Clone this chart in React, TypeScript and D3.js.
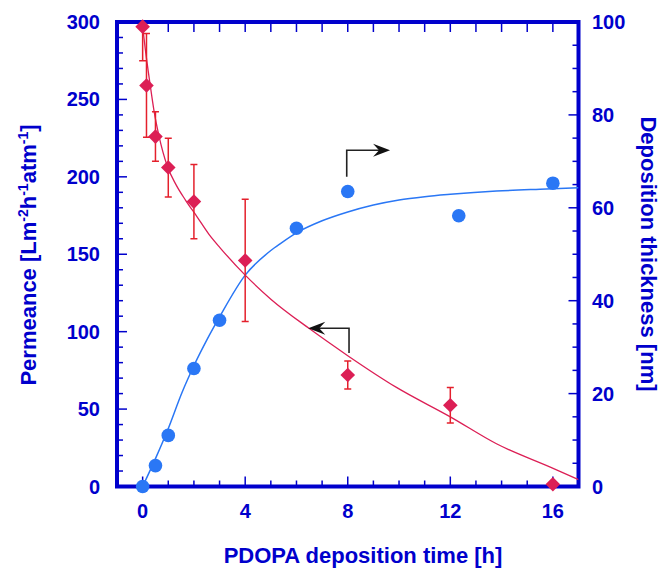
import React from "react";
import * as d3 from "d3";

// ---- Data ----
const permTime = [0, 0.15, 0.5, 1, 2, 4, 8, 12, 16];
const permValue = [297, 259, 226, 206, 184, 146, 72, 52.5, 1.5];
const permErr = [22, 33.5, 16, 19, 24, 39.5, 9, 11.5, 0];

const thickTime = [0, 0.5, 1, 2, 3, 6, 8, 12.33, 16];
const thickValue = [0, 4.5, 11, 25.4, 35.8, 55.6, 63.5, 58.3, 65.3];

// fitted curves
const permFitTime = [0, 0.1, 0.28, 0.45, 0.63, 0.96, 1.3, 1.67, 2.13, 2.58, 3.03, 4, 5, 6.5, 8, 9.9, 12, 13.8, 15.9, 17];
const permFitValue = [297, 283, 261, 242, 227, 207, 195, 185, 174, 163, 154, 136.5, 121, 102, 84.5, 64, 45, 27.6, 12.5, 4.5];

const thickFitTime = [0, 0.5, 1, 1.54, 2, 2.5, 3, 4, 5, 5.4, 6, 7, 8, 9, 10, 11, 12, 13.8, 15.5, 17];
const thickFitValue = [0, 6, 12.5, 20.3, 26, 31.5, 36.5, 45.5, 50.8, 52.4, 54.6, 57.2, 59.1, 60.6, 61.7, 62.4, 62.9, 63.6, 64, 64.3];

const xTicks = [0, 4, 8, 12, 16];
const yLeftTicks = [0, 50, 100, 150, 200, 250, 300];
const yRightTicks = [0, 20, 40, 60, 80, 100];

// annotation arrows (data coords)
const leftArrow = { tipX: 6.46, y: 102.2, cornerX: 8.05, endY: 86.2 }; // left axis
const rightArrow = { x: 7.96, startY: 66.7, cornerY: 72.4, tipX: 9.65 }; // right axis

const AXIS = "#0000CC";
const RED = "#DC1F55";
const ERR = "#E4202C";
const BLUE = "#2A77F5";
const FONT = "'Liberation Sans', Arial, Helvetica, sans-serif";

export default function App() {
  const W = 661, H = 568;
  const L = 117, R = 578.5, T = 22, B = 486.5;
  const x = d3.scaleLinear().domain([-1, 17]).range([L, R]);
  const yL = d3.scaleLinear().domain([0, 300]).range([B, T]);
  const yR = d3.scaleLinear().domain([0, 100]).range([B, T]);

  const redLine = d3.line<number>()
    .x((_, i) => x(permFitTime[i]))
    .y((d) => yL(d))
    .curve(d3.curveMonotoneX)(permFitValue) as string;
  const blueLine = d3.line<number>()
    .x((_, i) => x(thickFitTime[i]))
    .y((d) => yR(d))
    .curve(d3.curveMonotoneX)(thickFitValue) as string;

  const xMinor = d3.range(-1, 18, 1);
  const yLMinor = d3.range(0, 301, 10);
  const yRMinor = d3.range(0, 101, 5);

  const arrowHead = (tx: number, ty: number, dir: number) => {
    const len = 17, hw = 6.5, notch = 11;
    const p = [
      [tx, ty],
      [tx - dir * len, ty - hw],
      [tx - dir * notch, ty],
      [tx - dir * len, ty + hw],
    ];
    return "M" + p.map((q) => q.join(",")).join("L") + "Z";
  };

  return (
    <div style={{ position: "absolute", left: 0, top: 0 }}>
      <svg width={W} height={H} style={{ display: "block", background: "#fff" }} fontFamily={FONT}>
        <defs>
          <clipPath id="plotclip">
            <rect x={L} y={T} width={R - L} height={B - T} />
          </clipPath>
        </defs>

        {/* ticks */}
        {xMinor.map((t) => {
          const major = xTicks.includes(t);
          return (
            <g key={"xt" + t} stroke={AXIS} strokeWidth={1.5}>
              <line x1={x(t)} x2={x(t)} y1={B} y2={B - (major ? 10 : 6)} />
              <line x1={x(t)} x2={x(t)} y1={T} y2={T + 10} />
            </g>
          );
        })}
        {yLMinor.map((t) => (
          <line key={"yl" + t} stroke={AXIS} strokeWidth={1.5} x1={L} x2={L + (t % 50 === 0 ? 10 : 6)} y1={yL(t)} y2={yL(t)} />
        ))}
        {yRMinor.map((t) => (
          <line key={"yr" + t} stroke={AXIS} strokeWidth={1.5} x1={R} x2={R - (t % 20 === 0 ? 10 : 6)} y1={yR(t)} y2={yR(t)} />
        ))}

        {/* frame */}
        <rect x={L} y={T} width={R - L} height={B - T} fill="none" stroke={AXIS} strokeWidth={4} />

        {/* tick labels */}
        {xTicks.map((t) => (
          <text key={"xl" + t} x={x(t)} y={518} textAnchor="middle" fontSize={20} fontWeight="bold" fill={AXIS}>{t}</text>
        ))}
        {yLeftTicks.map((t) => (
          <text key={"yll" + t} x={100} y={yL(t)} dy="0.35em" textAnchor="end" fontSize={20} fontWeight="bold" fill={AXIS}>{t}</text>
        ))}
        {yRightTicks.map((t) => (
          <text key={"yrl" + t} x={592} y={yR(t)} dy="0.35em" textAnchor="start" fontSize={20} fontWeight="bold" fill={AXIS}>{t}</text>
        ))}

        {/* axis titles */}
        <text x={363} y={563} textAnchor="middle" fontSize={22} fontWeight="bold" fill={AXIS}>PDOPA deposition time [h]</text>
        <text transform="translate(36,255) rotate(-90)" textAnchor="middle" fontSize={22} fontWeight="bold" fill={AXIS}>
          Permeance [Lm<tspan dy={-8} fontSize={14}>-2</tspan><tspan dy={8}>h</tspan><tspan dy={-8} fontSize={14}>-1</tspan><tspan dy={8}>atm</tspan><tspan dy={-8} fontSize={14}>-1</tspan><tspan dy={8}>]</tspan>
        </text>
        <text transform="translate(641,254) rotate(90)" textAnchor="middle" fontSize={22} fontWeight="bold" fill={AXIS}>Deposition thickness [nm]</text>

        {/* fitted curves */}
        <g clipPath="url(#plotclip)">
          <path d={redLine} fill="none" stroke={RED} strokeWidth={1.3} />
          <path d={blueLine} fill="none" stroke={BLUE} strokeWidth={1.5} />
        </g>

        {/* error bars */}
        <g clipPath="url(#plotclip)" stroke={ERR} strokeWidth={1.5}>
          {permTime.map((t, i) => {
            if (!permErr[i]) return null;
            const cx = x(t);
            const y1 = yL(permValue[i] + permErr[i]);
            const y2 = yL(permValue[i] - permErr[i]);
            return (
              <g key={"eb" + i}>
                <line x1={cx} x2={cx} y1={y1} y2={y2} />
                <line x1={cx - 3.5} x2={cx + 3.5} y1={y1} y2={y1} />
                <line x1={cx - 3.5} x2={cx + 3.5} y1={y2} y2={y2} />
              </g>
            );
          })}
        </g>

        {/* arrows */}
        <g stroke="#222" strokeWidth={1.6} fill="none">
          <polyline points={`${x(leftArrow.tipX) + 8},${yL(leftArrow.y)} ${x(leftArrow.cornerX)},${yL(leftArrow.y)} ${x(leftArrow.cornerX)},${yL(leftArrow.endY)}`} />
          <polyline points={`${x(rightArrow.x)},${yR(rightArrow.startY)} ${x(rightArrow.x)},${yR(rightArrow.cornerY)} ${x(rightArrow.tipX) - 8},${yR(rightArrow.cornerY)}`} />
        </g>
        <path d={arrowHead(x(leftArrow.tipX), yL(leftArrow.y), -1)} fill="#111" />
        <path d={arrowHead(x(rightArrow.tipX), yR(rightArrow.cornerY), 1)} fill="#111" />

        {/* markers */}
        {permTime.map((t, i) => {
          const cx = x(t), cy = yL(permValue[i]), s = 7.3;
          return <path key={"d" + i} d={`M${cx},${cy - s}L${cx + s},${cy}L${cx},${cy + s}L${cx - s},${cy}Z`} fill={RED} />;
        })}
        {thickTime.map((t, i) => (
          <circle key={"c" + i} cx={x(t)} cy={yR(thickValue[i])} r={6.8} fill={BLUE} />
        ))}
      </svg>
    </div>
  );
}
